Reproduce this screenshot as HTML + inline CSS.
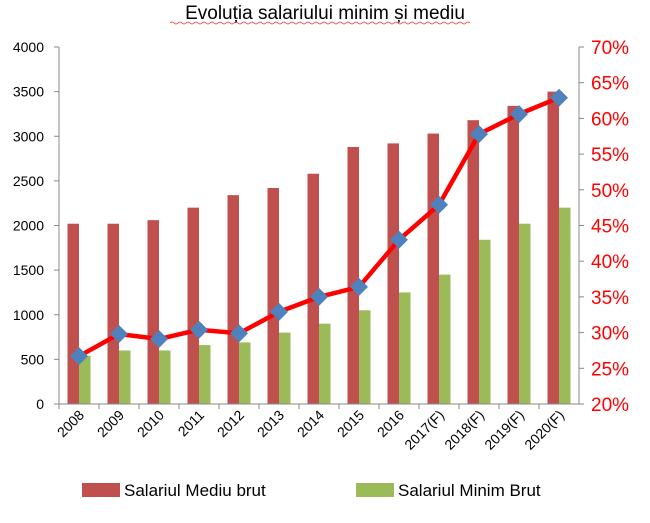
<!DOCTYPE html>
<html><head><meta charset="utf-8"><style>
body{margin:0;background:#fff;width:650px;height:518px;overflow:hidden}
text{font-family:"Liberation Sans",sans-serif}
</style></head><body>
<svg id="c" width="650" height="518">
<text x="325" y="19" text-anchor="middle" font-size="19" fill="#000">Evoluția salariului minim și mediu</text>
<path d="M170 23 q2 -2 4 0 t4 0 t4 0 t4 0 t4 0 t4 0 t4 0 t4 0 t4 0 t4 0 t4 0 t4 0 t4 0 t4 0 t4 0 t4 0 t4 0 t4 0 t4 0 t4 0 t4 0 t4 0 t4 0 t4 0 t4 0 t4 0 t4 0 t4 0 t4 0 t4 0 t4 0 t4 0 t4 0 t4 0 t4 0 t4 0 t4 0 t4 0 t4 0 t4 0 t4 0 t4 0 t4 0 t4 0 t4 0 t4 0 t4 0 t4 0 t4 0 t4 0 t4 0 t4 0 t4 0 t4 0 t4 0 t4 0 t4 0 t4 0 t4 0 t4 0 t4 0 t4 0 t4 0 t4 0 t4 0 t4 0 t4 0 t4 0 t4 0 t4 0 t4 0 t4 0 t4 0 t4 0 t4 0" stroke="#e33" stroke-width="0.8" fill="none"/>
<g id="g"></g>
<rect x="82" y="483" width="38" height="14" fill="#c0504d"/>
<text x="124" y="496" font-size="17">Salariul Mediu brut</text>
<rect x="356" y="483" width="38" height="14" fill="#9bbb59"/>
<text x="398" y="496" font-size="17">Salariul Minim Brut</text>
</svg>
<script>
const categories=["2008","2009","2010","2011","2012","2013","2014","2015","2016","2017(F)","2018(F)","2019(F)","2020(F)"];
const mediu=[2020,2020,2060,2200,2340,2420,2580,2880,2920,3030,3180,3340,3500];
const minim=[540,600,600,660,690,800,900,1050,1250,1450,1840,2020,2200];
const ratio=[26.7,29.8,29.1,30.4,29.9,32.9,35.0,36.4,43.0,47.9,57.8,60.6,62.9];
const leftTicks=[0,500,1000,1500,2000,2500,3000,3500,4000];
const rightTicks=[20,25,30,35,40,45,50,55,60,65,70];
const X0=59,X1=579,Y0=404,Y1=47;
const bw=(X1-X0)/categories.length;
const yL=v=>Y0-(v/4000)*(Y0-Y1);
const yR=v=>Y0-((v-20)/50)*(Y0-Y1);
const xC=i=>X0+bw*(i+0.5);
const g=document.getElementById('g');
const NS="http://www.w3.org/2000/svg";
function mk(t,a){const e=document.createElementNS(NS,t);for(const k in a)e.setAttribute(k,a[k]);g.appendChild(e);return e;}
categories.forEach((c,i)=>{
 let r=mk('rect',{x:xC(i)-11.5,y:yL(mediu[i]),width:11.5,height:Y0-yL(mediu[i]),fill:'#c0504d'});
 
 
 let gr=mk('rect',{x:xC(i),y:yL(minim[i]),width:11.5,height:Y0-yL(minim[i]),fill:'#9bbb59'});
 
 
 let t=mk('text',{transform:`translate(${xC(i)+6},${Y0+12}) rotate(-45)`,'text-anchor':'end','font-size':14});
 t.textContent=c;
 
 
 let tk=mk('line',{x1:X0+bw*i,x2:X0+bw*i,y1:Y0,y2:Y0+5,stroke:'#888'});
 
 
});
let ax=mk('line',{x1:X0,x2:X1,y1:Y0,y2:Y0,stroke:'#888'});


let la=mk('line',{x1:X0,x2:X0,y1:Y1,y2:Y0,stroke:'#888'});


let ra=mk('line',{x1:X1,x2:X1,y1:Y1,y2:Y0,stroke:'#888'});


leftTicks.forEach(v=>{
 let t=mk('text',{x:X0-15,y:yL(v)+5,'text-anchor':'end','font-size':14});
 t.textContent=v;
 
 
 let l=mk('line',{x1:X0-5,x2:X0,y1:yL(v),y2:yL(v),stroke:'#888'});
 
 
});
rightTicks.forEach(v=>{
 let t=mk('text',{x:X1+12,y:yR(v)+7,'font-size':19,fill:'#f00'});
 t.textContent=v+'%';
 
 
 let l=mk('line',{x1:X1,x2:X1+5,y1:yR(v),y2:yR(v),stroke:'#888'});
 
 
});
let pl=mk('polyline',{points:ratio.map((v,i)=>xC(i)+','+yR(v)).join(' '),fill:'none',stroke:'#f00','stroke-width':4.5,'stroke-linejoin':'round'});


ratio.forEach((v,i)=>{
 const x=xC(i),y=yR(v),s=9;
 let d=mk('polygon',{points:`${x},${y-s} ${x+s},${y} ${x},${y+s} ${x-s},${y}`,fill:'#4f81bd'});
 
 
});
</script>
</body></html>
